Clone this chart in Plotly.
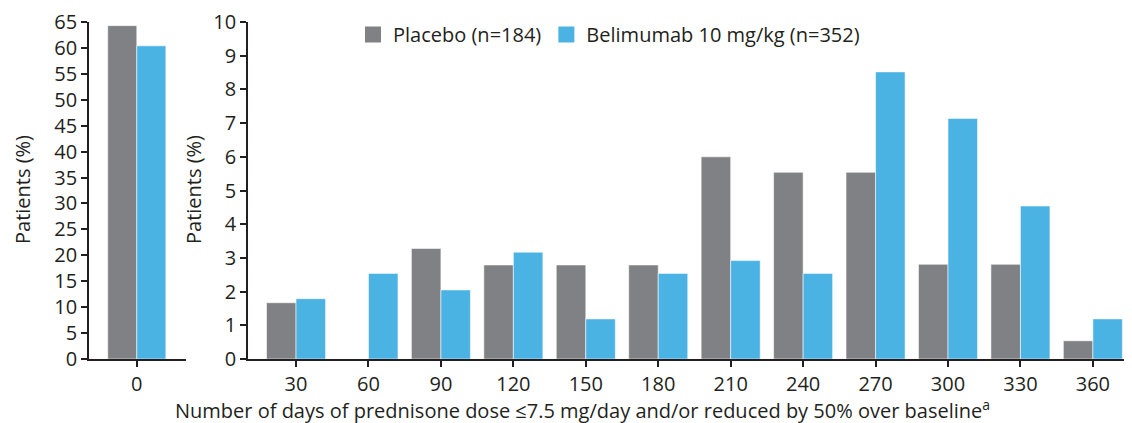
import plotly.graph_objects as go

# ---- data ----
days_left = ["0"]
placebo_left = [64.3]
belimumab_left = [60.4]

days = ["30", "60", "90", "120", "150", "180", "210", "240", "270", "300", "330", "360"]
placebo = [1.67, 0.0, 3.28, 2.79, 2.79, 2.79, 6.0, 5.54, 5.54, 2.81, 2.81, 0.54]
belimumab = [1.79, 2.54, 2.05, 3.17, 1.19, 2.54, 2.92, 2.54, 8.52, 7.14, 4.54, 1.19]

series_names = ["Placebo (n=184)", "Belimumab 10 mg/kg (n=352)"]
GRAY = "#808185"
BLUE = "#4BB2E4"
TXT = "#231F20"
FONT = "Open Sans"
FS = 20

# page body has an 8px margin; figure fills the rest of the 1132x423 window
OFF = 8
W, H = 1132 - OFF, 423 - OFF


def px(x):
    return (x - OFF) / W


def py(y):
    return (H - (y - OFF)) / H


fig = go.Figure()

edge = dict(width=1, color="rgba(255,255,255,0.55)")

fig.add_trace(go.Bar(x=days_left, y=placebo_left, marker=dict(color=GRAY, line=edge),
                     xaxis="x", yaxis="y", showlegend=False))
fig.add_trace(go.Bar(x=days_left, y=belimumab_left, marker=dict(color=BLUE, line=edge),
                     xaxis="x", yaxis="y", showlegend=False))
fig.add_trace(go.Bar(x=days, y=placebo, marker=dict(color=GRAY, line=edge),
                     xaxis="x2", yaxis="y2", showlegend=False))
fig.add_trace(go.Bar(x=days, y=belimumab, marker=dict(color=BLUE, line=edge),
                     xaxis="x2", yaxis="y2", showlegend=False))

# legend entries with larger square symbols
for name, col in zip(series_names, [GRAY, BLUE]):
    fig.add_trace(go.Scatter(x=[None], y=[None], mode="markers", name=name,
                             marker=dict(symbol="square", size=17, color=col),
                             xaxis="x2", yaxis="y2"))

ydom = [py(359), py(22)]

axis_common = dict(showline=True, linecolor=TXT, linewidth=1.8, ticks="outside",
                   ticklen=6, tickwidth=1.5, tickcolor=TXT, showgrid=False, zeroline=False,
                   automargin=False,
                   tickfont=dict(family=FONT, size=FS, color=TXT))

fig.update_layout(
    width=W, height=H,
    margin=dict(l=0, r=0, t=0, b=0, pad=0, autoexpand=False),
    paper_bgcolor="white", plot_bgcolor="white",
    barmode="group", bargap=0.185, bargroupgap=0,
    font=dict(family=FONT, size=FS, color=TXT),
    xaxis=dict(domain=[px(89), px(186)], type="category", range=[-0.67, 0.69],
               anchor="y", **axis_common),
    yaxis=dict(domain=ydom, range=[0, 65], dtick=5, anchor="x", **axis_common),
    xaxis2=dict(domain=[px(248), 1.0], type="category", range=[-0.663, 11.54],
                anchor="y2", **axis_common),
    yaxis2=dict(domain=ydom, range=[0, 10], dtick=1, anchor="x2", **axis_common),
    legend=dict(orientation="h", x=px(353), y=py(15), xanchor="left", yanchor="top",
                font=dict(family=FONT, size=FS, color=TXT), bgcolor="rgba(0,0,0,0)",
                itemsizing="trace", tracegroupgap=0),
    annotations=[
        dict(text="Patients (%)", textangle=-90, x=px(22), y=py(190),
             xref="paper", yref="paper", showarrow=False, xanchor="center", yanchor="middle",
             font=dict(family=FONT, size=FS, color=TXT)),
        dict(text="Patients (%)", textangle=-90, x=px(193), y=py(190),
             xref="paper", yref="paper", showarrow=False, xanchor="center", yanchor="middle",
             font=dict(family=FONT, size=FS, color=TXT)),
        dict(text="Number of days of prednisone dose \u22647.5 mg/day and/or reduced by 50% over baseline<sup>a</sup>",
             x=px(582), y=py(409), xref="paper", yref="paper", showarrow=False,
             xanchor="center", yanchor="middle", font=dict(family=FONT, size=FS, color=TXT)),
    ],
)

fig.write_html("out.html")
